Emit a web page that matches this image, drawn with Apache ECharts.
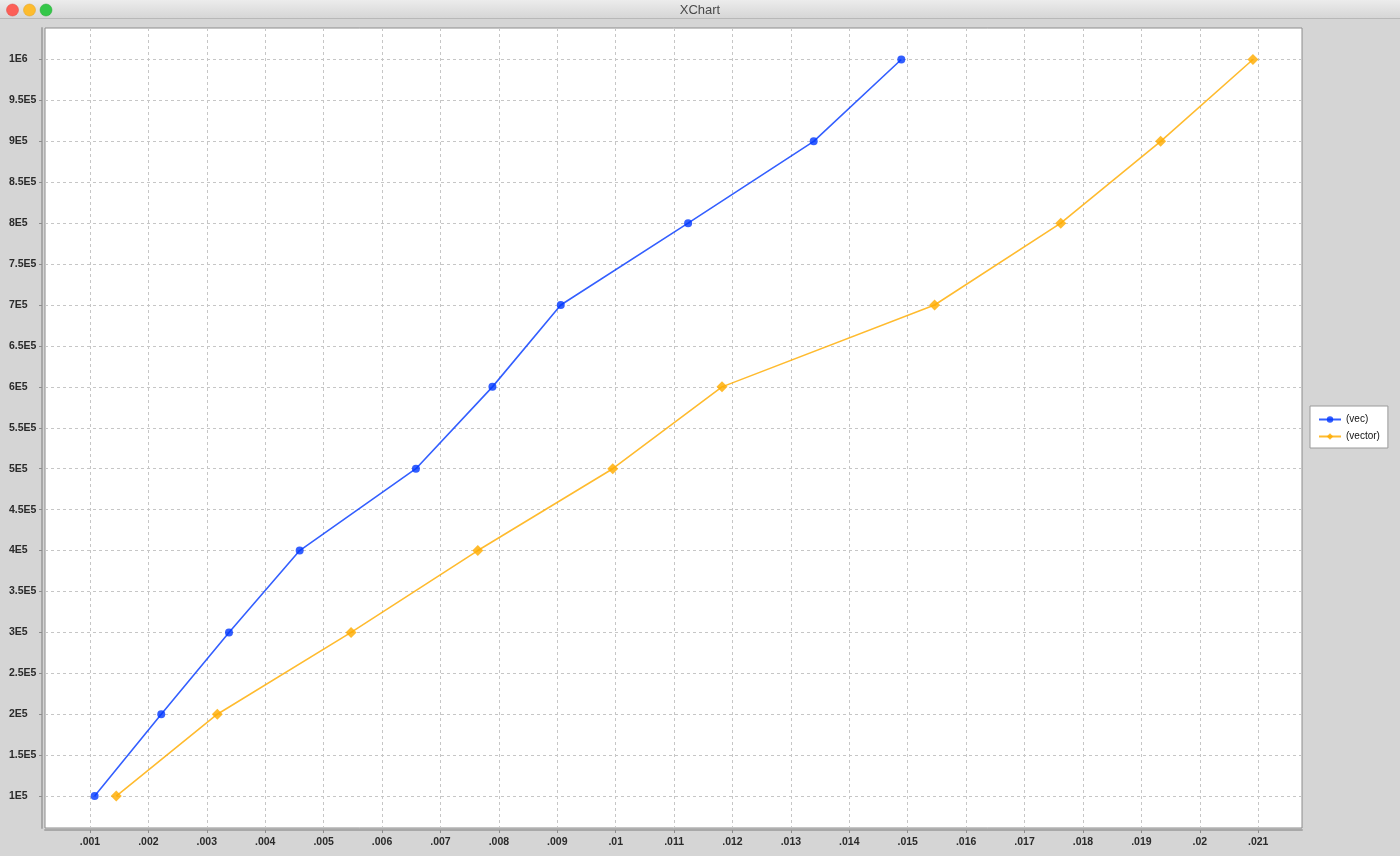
<!DOCTYPE html>
<html>
<head>
<meta charset="utf-8">
<script src="https://cdn.jsdelivr.net/npm/echarts@6/dist/echarts.min.js"></script>
<style>
html,body{margin:0;padding:0;background:#d5d5d5;}
#chart{width:1400px;height:856px;}
</style>
</head>
<body>
<div id="chart"></div>
<script>
// ---- data ----
const seriesNames = ['(vec)', '(vector)'];
const yValues = [100000, 200000, 300000, 400000, 500000, 600000, 700000, 800000, 900000, 1000000];
const vecX = [0.00108, 0.00222, 0.00338, 0.00459, 0.00658, 0.00789, 0.00906, 0.01124, 0.01339, 0.01489];
const vectorX = [0.00145, 0.00318, 0.00547, 0.00764, 0.00995, 0.01182, 0.01546, 0.01762, 0.01933, 0.02091];
const xTicks = [0.001, 0.002, 0.003, 0.004, 0.005, 0.006, 0.007, 0.008, 0.009, 0.010, 0.011,
                0.012, 0.013, 0.014, 0.015, 0.016, 0.017, 0.018, 0.019, 0.020, 0.021];
const yTicks = [100000, 150000, 200000, 250000, 300000, 350000, 400000, 450000, 500000, 550000,
                600000, 650000, 700000, 750000, 800000, 850000, 900000, 950000, 1000000];
const xRange = [0.00023, 0.02175];
const yRange = [61000, 1038500];

function fmtX(v) {
  return parseFloat(v.toFixed(6)).toString().replace(/^0\./, '.');
}
function fmtY(v) {
  const e = Math.floor(Math.log10(v) + 1e-9);
  const m = Math.round(v / Math.pow(10, e) * 100) / 100;
  return m + 'E' + e;
}
function pairs(xs, ys) { return xs.map((x, i) => [x, ys[i]]); }

const chart = echarts.init(document.getElementById('chart'));
const blue = 'rgba(0,55,255,0.8)';
const orange = 'rgba(255,172,0,0.82)';
const gridLine = { show: true, lineStyle: { color: '#c6c6c6', width: 1, type: [3, 3] } };

chart.setOption({
  backgroundColor: '#d5d5d5',
  animation: false,
  textStyle: { fontFamily: 'Liberation Sans' },
  graphic: [
    { type: 'rect', shape: { x: 0, y: 0, width: 1400, height: 18 },
      style: { fill: new echarts.graphic.LinearGradient(0, 0, 0, 1, [
        { offset: 0, color: '#ececec' }, { offset: 1, color: '#d6d6d6' }]) }, z: 10 },
    { type: 'line', shape: { x1: 0, y1: 18.5, x2: 1400, y2: 18.5 },
      style: { stroke: '#b8b8b8', lineWidth: 1 }, z: 10 },
    { type: 'text', x: 700, y: 10, style: { text: 'XChart', fill: '#4a4a4a',
      font: '13px "Liberation Sans"', align: 'center', verticalAlign: 'middle' }, z: 11 },
    { type: 'circle', shape: { cx: 12.5, cy: 10, r: 6 }, style: { fill: '#fc5f57', stroke: '#e0443e', lineWidth: 0.5 }, z: 11 },
    { type: 'circle', shape: { cx: 29.5, cy: 10, r: 6 }, style: { fill: '#fdbc2e', stroke: '#dea123', lineWidth: 0.5 }, z: 11 },
    { type: 'circle', shape: { cx: 46, cy: 10, r: 6 }, style: { fill: '#34c749', stroke: '#27aa35', lineWidth: 0.5 }, z: 11 }
  ],
  grid: {
    left: 45, right: 98, top: 28, bottom: 28,
    show: true, backgroundColor: '#ffffff', borderColor: '#8c8c8c', borderWidth: 1
  },
  legend: {
    orient: 'vertical', left: 1310, top: 406,
    data: seriesNames,
    backgroundColor: '#ffffff', borderColor: '#9a9a9a', borderWidth: 1, borderRadius: 0,
    padding: [8, 8, 6, 8], itemGap: 6, itemWidth: 22, itemHeight: 8,
    textStyle: { fontSize: 10, color: '#111', fontFamily: 'Liberation Sans', lineHeight: 11 }
  },
  xAxis: {
    type: 'value', min: xRange[0], max: xRange[1], offset: 2,
    axisLine: { show: true, onZero: false, lineStyle: { color: '#a8a8a8', width: 2 } },
    axisTick: { show: true, length: 3, customValues: xTicks, lineStyle: { color: '#8c8c8c' } },
    axisLabel: { customValues: xTicks, formatter: fmtX, margin: 7, fontSize: 10.5, fontWeight: 'bold',
      color: '#2a2a2a', fontFamily: 'Liberation Sans', showMinLabel: true, showMaxLabel: true },
    splitLine: gridLine
  },
  yAxis: {
    type: 'value', min: yRange[0], max: yRange[1], offset: 3,
    axisLine: { show: true, onZero: false, lineStyle: { color: '#a8a8a8', width: 2 } },
    axisTick: { show: true, length: 3, customValues: yTicks, lineStyle: { color: '#8c8c8c' } },
    axisLabel: { customValues: yTicks, formatter: fmtY, margin: 33, align: 'left', fontSize: 10.5,
      fontWeight: 'bold', color: '#2a2a2a', fontFamily: 'Liberation Sans' },
    splitLine: gridLine
  },
  series: [
    { name: seriesNames[0], type: 'line', data: pairs(vecX, yValues),
      symbol: 'circle', symbolSize: 8, showAllSymbol: true,
      lineStyle: { color: blue, width: 1.6 }, itemStyle: { color: blue } },
    { name: seriesNames[1], type: 'line', data: pairs(vectorX, yValues),
      symbol: 'diamond', symbolSize: 11, showAllSymbol: true,
      lineStyle: { color: orange, width: 1.6 }, itemStyle: { color: orange } }
  ]
});
</script>
</body>
</html>
